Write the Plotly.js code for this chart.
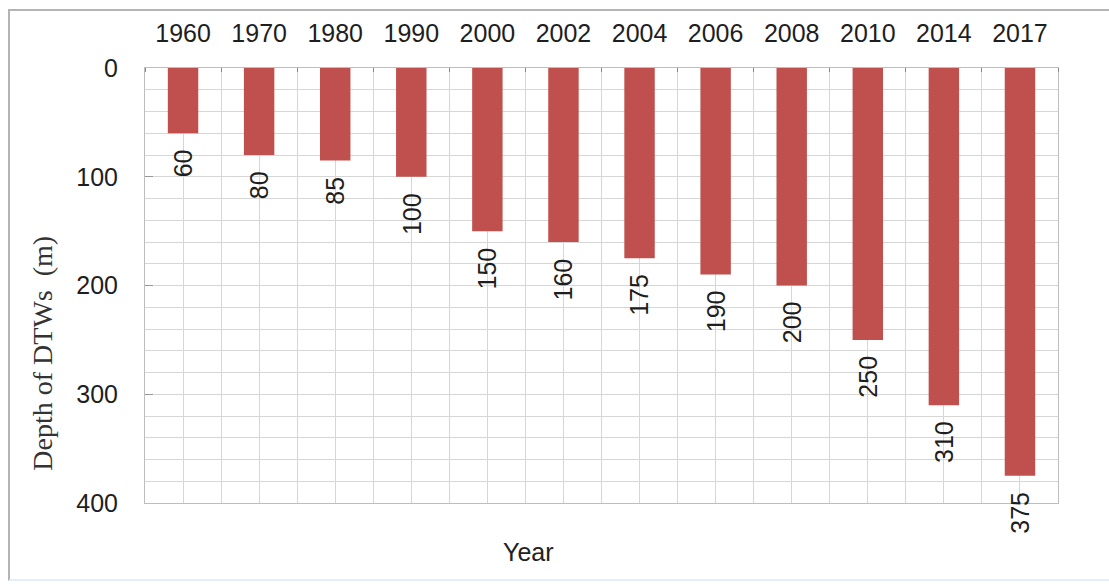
<!DOCTYPE html>
<html>
<head>
<meta charset="utf-8">
<script src="https://cdn.plot.ly/plotly-3.0.1.min.js"></script>
<style>
  html, body { margin: 0; padding: 0; background: #fff; }
  #wrap { position: relative; width: 1109px; height: 584px; overflow: hidden; }
  #frame {
    position: absolute; left: 8px; top: 9px; width: 1120px; height: 572px;
    border-top: 2px solid #b4b4b4; border-left: 2px solid #b4b4b4;
    border-bottom: 2px solid #e4eef7; box-sizing: border-box; pointer-events: none;
  }
  #chart { position: absolute; left: 0; top: 0; width: 1109px; height: 584px; }
</style>
</head>
<body>
<div id="wrap">
  <div id="chart"></div>
  <div id="frame"></div>
</div>
<script>
// Depth of deep tube wells by year
const years = ['1960', '1970', '1980', '1990', '2000', '2002', '2004', '2006', '2008', '2010', '2014', '2017'];
const depths = [60, 80, 85, 100, 150, 160, 175, 190, 200, 250, 310, 375];
const depthTicks = [0, 100, 200, 300, 400];

const idx = years.map((_, i) => i);
const sans = 'Liberation Sans, Arial, sans-serif';

const bars = {
  type: 'bar',
  x: idx,
  y: depths,
  width: 0.4,
  marker: { color: '#C0504D', line: { width: 0 } },
  hoverinfo: 'x+y'
};

// value labels, rotated, just under each bar end
const valueLabels = depths.map((d, i) => ({
  x: i, y: d, xref: 'x', yref: 'y',
  text: String(d), showarrow: false,
  textangle: -90, xanchor: 'center', yanchor: 'top', yshift: -14,
  font: { family: sans, size: 25, color: '#1e1e1e' }
}));

const layout = {
  width: 1109, height: 584,
  margin: { l: 145, r: 51, t: 68, b: 81 },
  paper_bgcolor: '#ffffff', plot_bgcolor: '#ffffff',
  showlegend: false,
  font: { family: sans, size: 24, color: '#222' },
  xaxis: {
    side: 'top',
    range: [-0.5, years.length - 0.5],
    tickmode: 'array', tickvals: idx, ticktext: years,
    ticks: '', ticklabelstandoff: 15,
    showgrid: true, gridcolor: '#d6d6d6', gridwidth: 1,
    minor: { tick0: 0.5, dtick: 1, showgrid: true, gridcolor: '#d6d6d6', gridwidth: 1,
             ticks: 'inside', ticklen: 4, tickcolor: '#888' },
    showline: true, linecolor: '#bdbdbd', linewidth: 1, mirror: true,
    zeroline: false, fixedrange: true,
    tickfont: { family: sans, size: 25, color: '#1e1e1e' }
  },
  yaxis: {
    autorange: false, range: [400, 0],
    tickmode: 'array', tickvals: depthTicks,
    ticks: 'inside', ticklen: 8, tickcolor: '#999',
    ticklabelstandoff: 21,
    showgrid: true, gridcolor: '#d6d6d6', gridwidth: 1,
    minor: { dtick: 20, showgrid: true, gridcolor: '#d6d6d6', gridwidth: 1 },
    showline: true, linecolor: '#bdbdbd', linewidth: 1, mirror: true,
    zeroline: false, fixedrange: true,
    tickfont: { family: sans, size: 25, color: '#1e1e1e' }
  },
  annotations: valueLabels.concat([
    {
      xref: 'paper', yref: 'paper', x: -0.112, y: 0.345,
      text: 'Depth of DTWs&nbsp;&nbsp;(m)', showarrow: false, textangle: -90,
      xanchor: 'center', yanchor: 'middle',
      font: { family: 'Liberation Serif, Times New Roman, serif', size: 28, color: '#333' }
    },
    {
      xref: 'paper', yref: 'paper', x: 0.4195, y: -0.113,
      text: 'Year', showarrow: false, xanchor: 'center', yanchor: 'middle',
      font: { family: sans, size: 25, color: '#222' }
    }
  ])
};

Plotly.newPlot('chart', [bars], layout, { displayModeBar: false, staticPlot: true });
</script>
</body>
</html>
